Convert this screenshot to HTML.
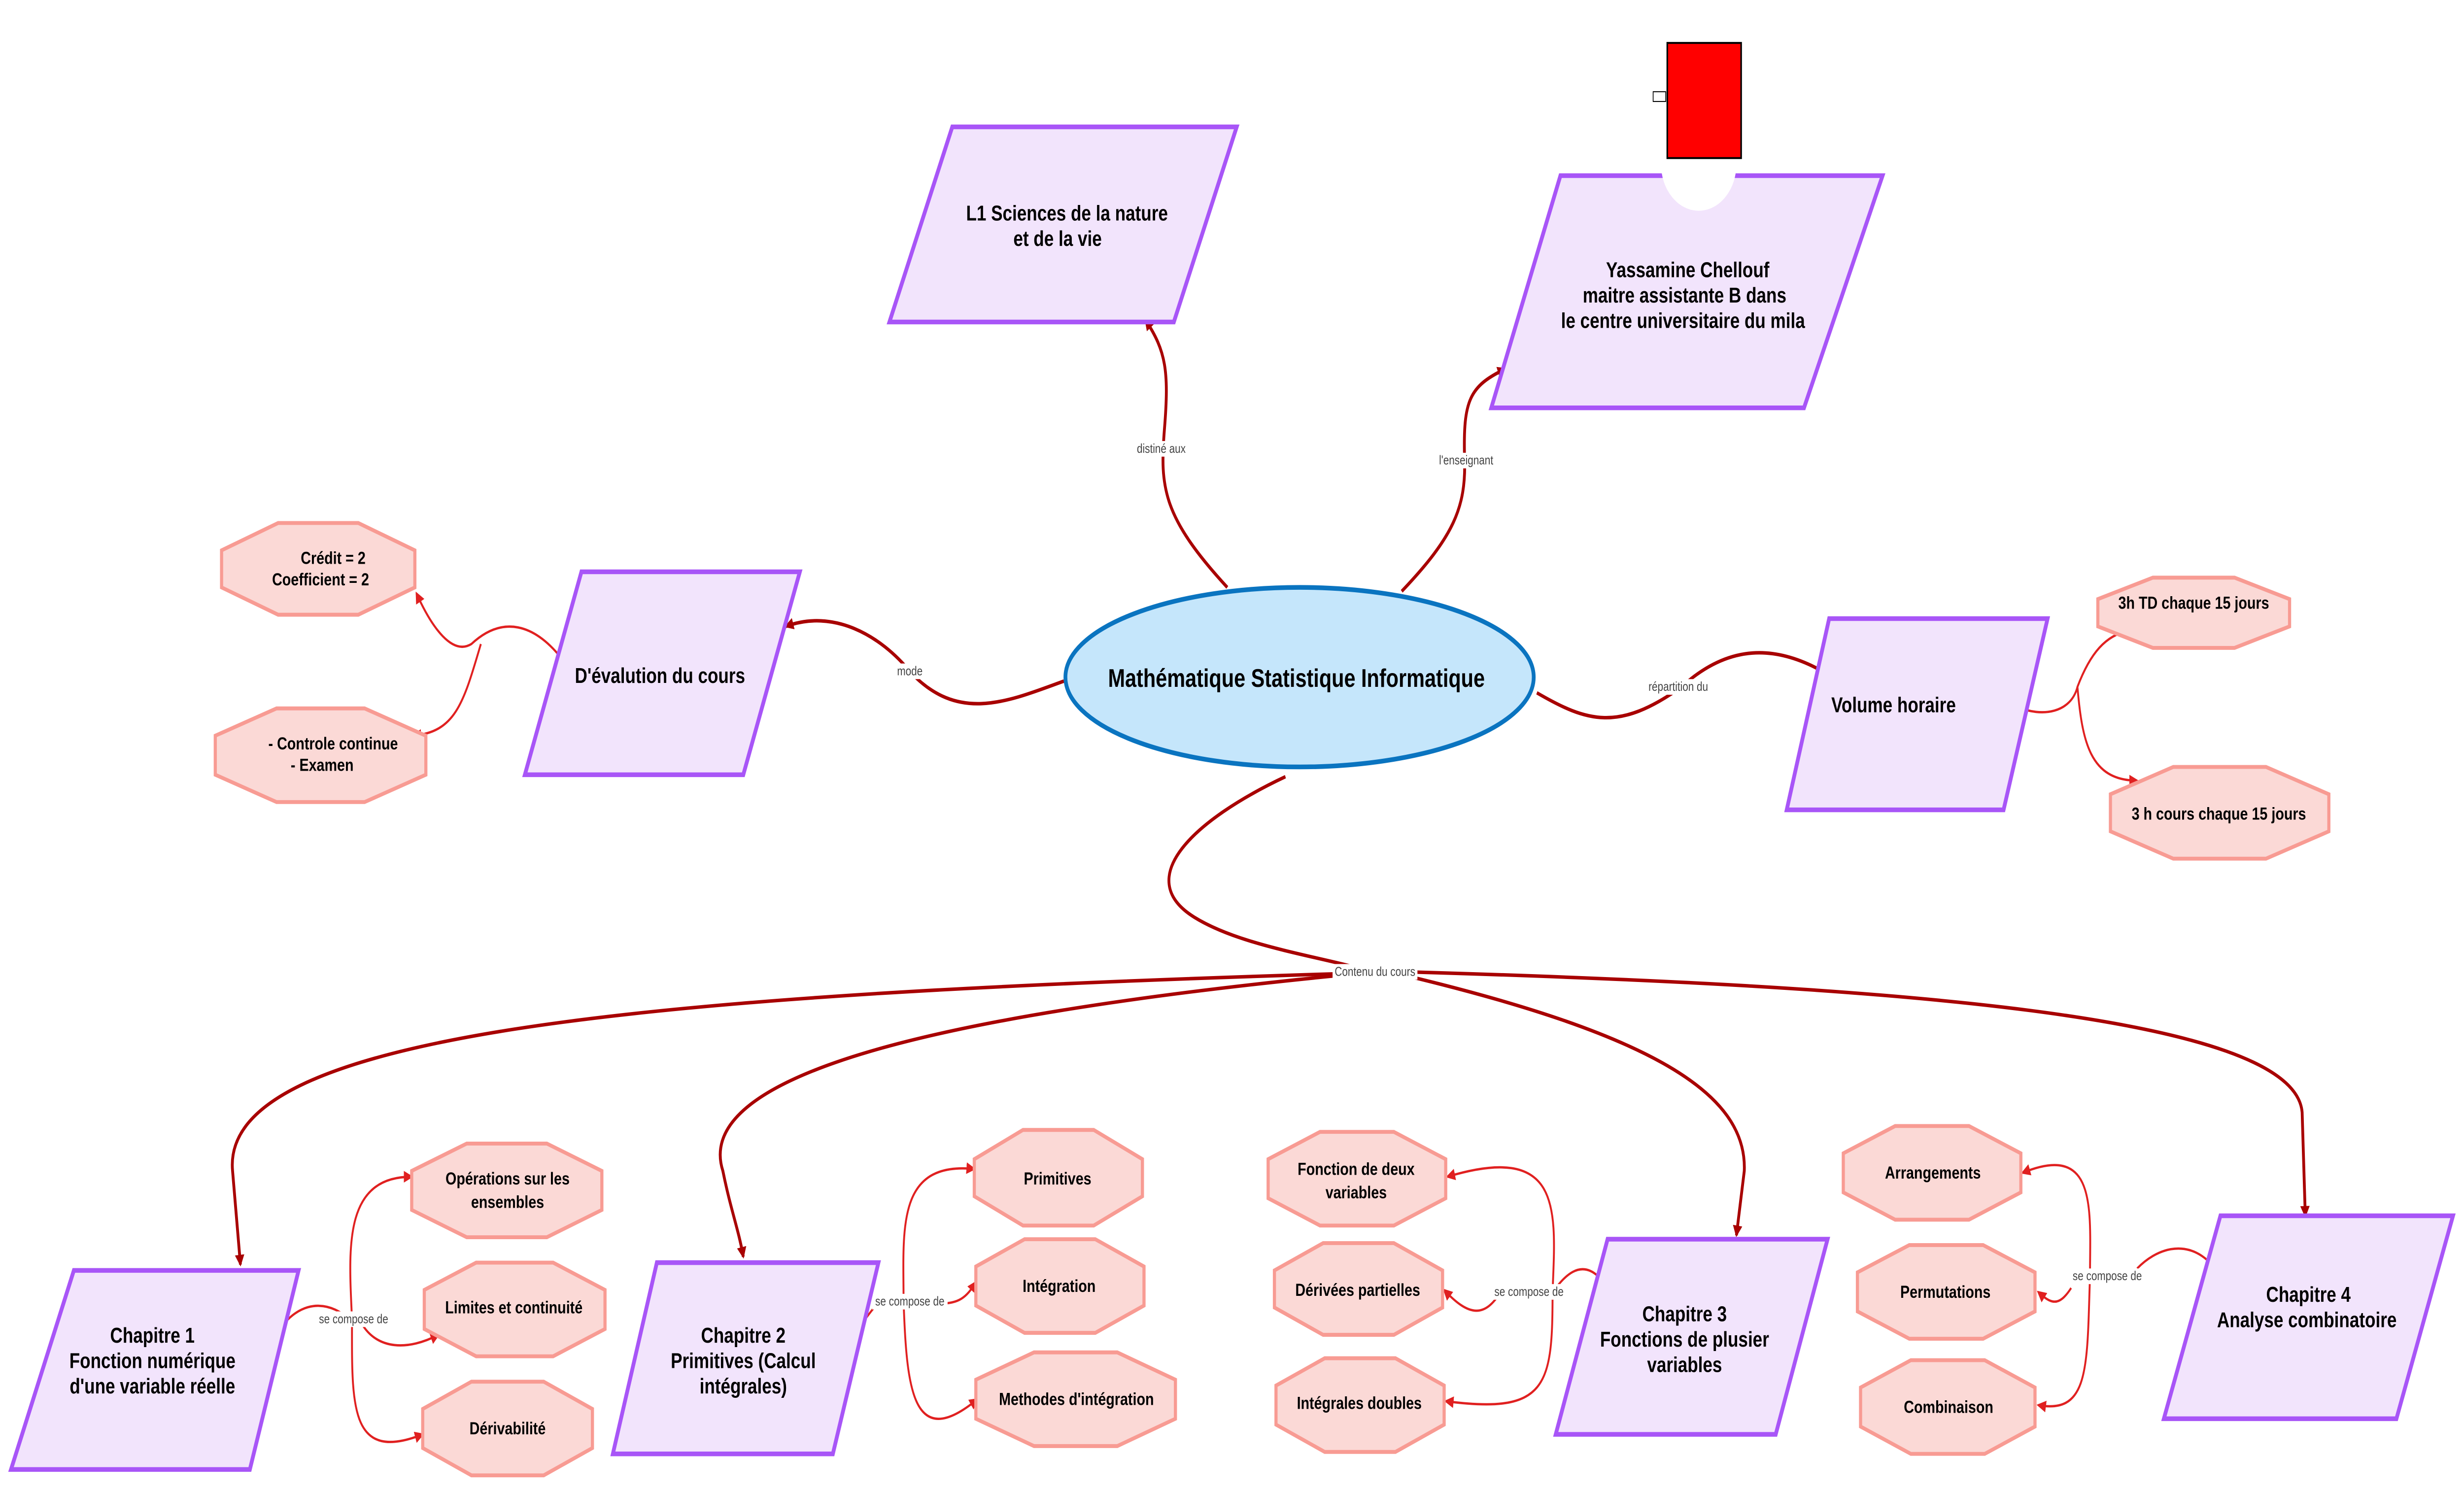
<!DOCTYPE html>
<html><head><meta charset="utf-8"><style>
html,body{margin:0;padding:0;background:#fff;width:100%;height:100%;overflow:hidden}
svg{display:block;width:100vw;height:100vh}
text{font-family:"Liberation Sans",sans-serif}
.t{font-weight:bold;font-size:11px;fill:#000;text-anchor:middle}
.o{font-weight:bold;font-size:9px;fill:#000;text-anchor:middle}
.l{font-size:6.5px;fill:#444;text-anchor:middle}
.pg{fill:#f2e4fc;stroke:#a855f7;stroke-width:2.4}
.oc{fill:#fbd9d6;stroke:#f89b93;stroke-width:2}
.c{fill:none;stroke:#a80000;stroke-width:1.8}
.s{fill:none;stroke:#e02020;stroke-width:1.2}
</style></head><body>
<svg viewBox="0 0 1568 763" preserveAspectRatio="none" xmlns="http://www.w3.org/2000/svg">
<defs>
<marker id="a" markerWidth="6" markerHeight="6" refX="5" refY="3" orient="auto" markerUnits="userSpaceOnUse"><path d="M0,0 L6,3 L0,6 z" fill="#a80000"/></marker>
<marker id="b" markerWidth="6" markerHeight="6" refX="5" refY="3" orient="auto" markerUnits="userSpaceOnUse"><path d="M0,0 L6,3 L0,6 z" fill="#e02020"/></marker>
</defs>

<path class="c" marker-end="url(#a)" d="M781,301 C740,265 738,250 741,220 C744,190 742,180 729,164"/>
<path class="c" marker-end="url(#a)" d="M892,303 C925,275 933,260 932,235 C931,205 935,198 958,189"/>
<path class="c" marker-end="url(#a)" d="M677,349 C640,360 610,370 580,345 C560,325 530,312 500,321"/>
<path class="c" marker-end="url(#a)" d="M978,355 C1010,370 1030,375 1070,352 C1100,330 1130,330 1162,345"/>
<path class="c" d="M818,398 C760,420 720,450 760,470 C790,485 840,490 873,498"/>
<path class="c" marker-end="url(#a)" d="M850,499 C400,510 140,530 148,600 L153,648"/>
<path class="c" marker-end="url(#a)" d="M850,500 C600,520 440,550 460,600 C465,620 470,630 473,644"/>
<path class="c" marker-end="url(#a)" d="M895,500 C1050,530 1112,560 1110,600 L1105,633"/>
<path class="c" marker-end="url(#a)" d="M895,498 C1200,505 1460,520 1465,570 L1467,623"/>
<rect x="848" y="494" width="54" height="8" fill="#fff"/>
<text class="l" x="875" y="500">Contenu du cours</text>
<rect x="720" y="226" width="38" height="8" fill="#fff"/><text class="l" x="739" y="232">distiné aux</text>
<rect x="914" y="232" width="38" height="8" fill="#fff"/><text class="l" x="933" y="238">l'enseignant</text>
<rect x="568" y="340" width="22" height="8" fill="#fff"/><text class="l" x="579" y="346">mode</text>
<rect x="1046" y="348" width="44" height="8" fill="#fff"/><text class="l" x="1068" y="354">répartition du</text>

<path class="s" marker-end="url(#b)" d="M357,337 C340,320 320,315 300,330 C288,336 275,322 265,304"/>
<path class="s" marker-end="url(#b)" d="M306,330 C295,360 290,375 263,377"/>
<path class="s" marker-end="url(#b)" d="M1283,362 C1300,368 1318,365 1322,352 C1330,335 1340,325 1356,323"/>
<path class="s" marker-end="url(#b)" d="M1322,352 C1325,380 1330,400 1360,400"/>

<path class="s" d="M181,678 C195,665 212,668 222,676"/>
<path class="s" marker-end="url(#b)" d="M224,676 C222,640 218,603 262,603"/>
<path class="s" marker-end="url(#b)" d="M230,678 C240,692 260,692 279,684"/>
<path class="s" marker-end="url(#b)" d="M224,676 C224,720 222,750 269,735"/>
<rect x="200" y="672" width="48" height="8" fill="#fff"/><text class="l" x="225" y="678">se compose de</text>

<path class="s" d="M536,690 C548,680 555,670 560,667"/>
<path class="s" marker-end="url(#b)" d="M575,667 C575,630 570,595 620,599"/>
<path class="s" marker-end="url(#b)" d="M598,668 C610,668 615,665 621,657"/>
<path class="s" marker-end="url(#b)" d="M575,667 C577,710 580,745 622,717"/>
<rect x="555" y="663" width="48" height="8" fill="#fff"/><text class="l" x="579" y="669">se compose de</text>

<path class="s" d="M1017,654 C1005,645 995,655 990,660"/>
<path class="s" marker-end="url(#b)" d="M988,662 C990,620 995,585 921,603"/>
<path class="s" marker-end="url(#b)" d="M955,662 C945,675 935,675 919,661"/>
<path class="s" marker-end="url(#b)" d="M988,662 C988,710 985,725 920,718"/>
<rect x="949" y="658" width="48" height="8" fill="#fff"/><text class="l" x="973" y="664">se compose de</text>

<path class="s" d="M1405,646 C1390,635 1372,640 1360,650"/>
<path class="s" marker-end="url(#b)" d="M1330,654 C1330,620 1335,585 1287,601"/>
<path class="s" marker-end="url(#b)" d="M1318,660 C1310,670 1305,668 1297,662"/>
<path class="s" marker-end="url(#b)" d="M1330,654 C1328,700 1330,725 1297,720"/>
<rect x="1317" y="650" width="48" height="8" fill="#fff"/><text class="l" x="1341" y="656">se compose de</text>

<ellipse cx="827" cy="347" rx="149" ry="46" fill="#c5e6fb" stroke="#0a74c0" stroke-width="2.4"/>
<text class="t" x="825" y="352" style="font-size:13px">Mathématique Statistique Informatique</text>

<polygon class="pg" points="606,65 787,65 747,165 566,165"/>
<text class="t" x="679" y="113">L1 Sciences de la nature</text><text class="t" x="673" y="126">et de la vie</text>

<polygon class="pg" points="993,90 1198,90 1148,209 949,209"/>
<circle cx="1081" cy="84" r="24" fill="#fff"/>
<rect x="1061" y="22" width="47" height="59" fill="#f00" stroke="#000" stroke-width="1"/>
<rect x="1052" y="47" width="8" height="5" fill="#fff" stroke="#000" stroke-width="0.5"/>
<text class="t" x="1074" y="142">Yassamine Chellouf</text>
<text class="t" x="1072" y="155">maitre assistante B dans</text>
<text class="t" x="1071" y="168">le centre universitaire du mila</text>

<polygon class="pg" points="370,293 509,293 473,397 334,397"/>
<text class="t" x="420" y="350">D'évalution du cours</text>

<polygon class="pg" points="1164,317 1303,317 1275,415 1137,415"/>
<text class="t" x="1205" y="365">Volume horaire</text>

<polygon class="pg" points="47,651 190,651 159,753 7,753"/>
<text class="t" x="97" y="688">Chapitre 1</text><text class="t" x="97" y="701">Fonction numérique</text><text class="t" x="97" y="714">d'une variable réelle</text>

<polygon class="pg" points="418,647 559,647 530,745 390,745"/>
<text class="t" x="473" y="688">Chapitre 2</text><text class="t" x="473" y="701">Primitives (Calcul</text><text class="t" x="473" y="714">intégrales)</text>

<polygon class="pg" points="1023,635 1163,635 1130,735 990,735"/>
<text class="t" x="1072" y="677">Chapitre 3</text><text class="t" x="1072" y="690">Fonctions de plusier</text><text class="t" x="1072" y="703">variables</text>

<polygon class="pg" points="1413,623 1561,623 1525,727 1377,727"/>
<text class="t" x="1469" y="667">Chapitre 4</text><text class="t" x="1468" y="680">Analyse combinatoire</text>

<polygon class="oc" points="177,268 228,268 264,282 264,301 228,315 177,315 141,301 141,282"/>
<text class="o" x="212" y="289">Crédit = 2</text><text class="o" x="204" y="300">Coefficient = 2</text>
<polygon class="oc" points="176,363 232,363 271,377 271,397 232,411 176,411 137,397 137,377"/>
<text class="o" x="212" y="384">- Controle continue</text><text class="o" x="205" y="395">- Examen</text>
<polygon class="oc" points="1370,296 1422,296 1457,307 1457,321 1422,332 1370,332 1335,321 1335,307"/>
<text class="o" x="1396" y="312">3h TD chaque 15 jours</text>
<polygon class="oc" points="1383,393 1442,393 1482,407 1482,426 1442,440 1383,440 1343,426 1343,407"/>
<text class="o" x="1412" y="420">3 h cours chaque 15 jours</text>

<polygon class="oc" points="297,586 348,586 383,600 383,620 348,634 297,634 262,620 262,600"/>
<text class="o" x="323" y="607">Opérations sur les</text><text class="o" x="323" y="619">ensembles</text>
<polygon class="oc" points="303,647 352,647 385,661 385,681 352,695 303,695 270,681 270,661"/>
<text class="o" x="327" y="673">Limites et continuité</text>
<polygon class="oc" points="300,708 346,708 377,722 377,742 346,756 300,756 269,742 269,722"/>
<text class="o" x="323" y="735">Dérivabilité</text>

<polygon class="oc" points="651,579 696,579 727,594 727,613 696,628 651,628 620,613 620,594"/>
<text class="o" x="673" y="607">Primitives</text>
<polygon class="oc" points="652,635 697,635 728,649 728,669 697,683 652,683 621,669 621,649"/>
<text class="o" x="674" y="662">Intégration</text>
<polygon class="oc" points="658,693 711,693 748,707 748,727 711,741 658,741 621,727 621,707"/>
<text class="o" x="685" y="720">Methodes d'intégration</text>

<polygon class="oc" points="840,580 887,580 920,594 920,614 887,628 840,628 807,614 807,594"/>
<text class="o" x="863" y="602">Fonction de deux</text><text class="o" x="863" y="614">variables</text>
<polygon class="oc" points="842,637 887,637 918,651 918,670 887,684 842,684 811,670 811,651"/>
<text class="o" x="864" y="664">Dérivées partielles</text>
<polygon class="oc" points="843,696 888,696 919,710 919,730 888,744 843,744 812,730 812,710"/>
<text class="o" x="865" y="722">Intégrales doubles</text>

<polygon class="oc" points="1206,577 1253,577 1286,591 1286,611 1253,625 1206,625 1173,611 1173,591"/>
<text class="o" x="1230" y="604">Arrangements</text>
<polygon class="oc" points="1215,638 1262,638 1295,652 1295,672 1262,686 1215,686 1182,672 1182,652"/>
<text class="o" x="1238" y="665">Permutations</text>
<polygon class="oc" points="1216,697 1263,697 1295,711 1295,731 1263,745 1216,745 1184,731 1184,711"/>
<text class="o" x="1240" y="724">Combinaison</text>
</svg>
</body></html>
